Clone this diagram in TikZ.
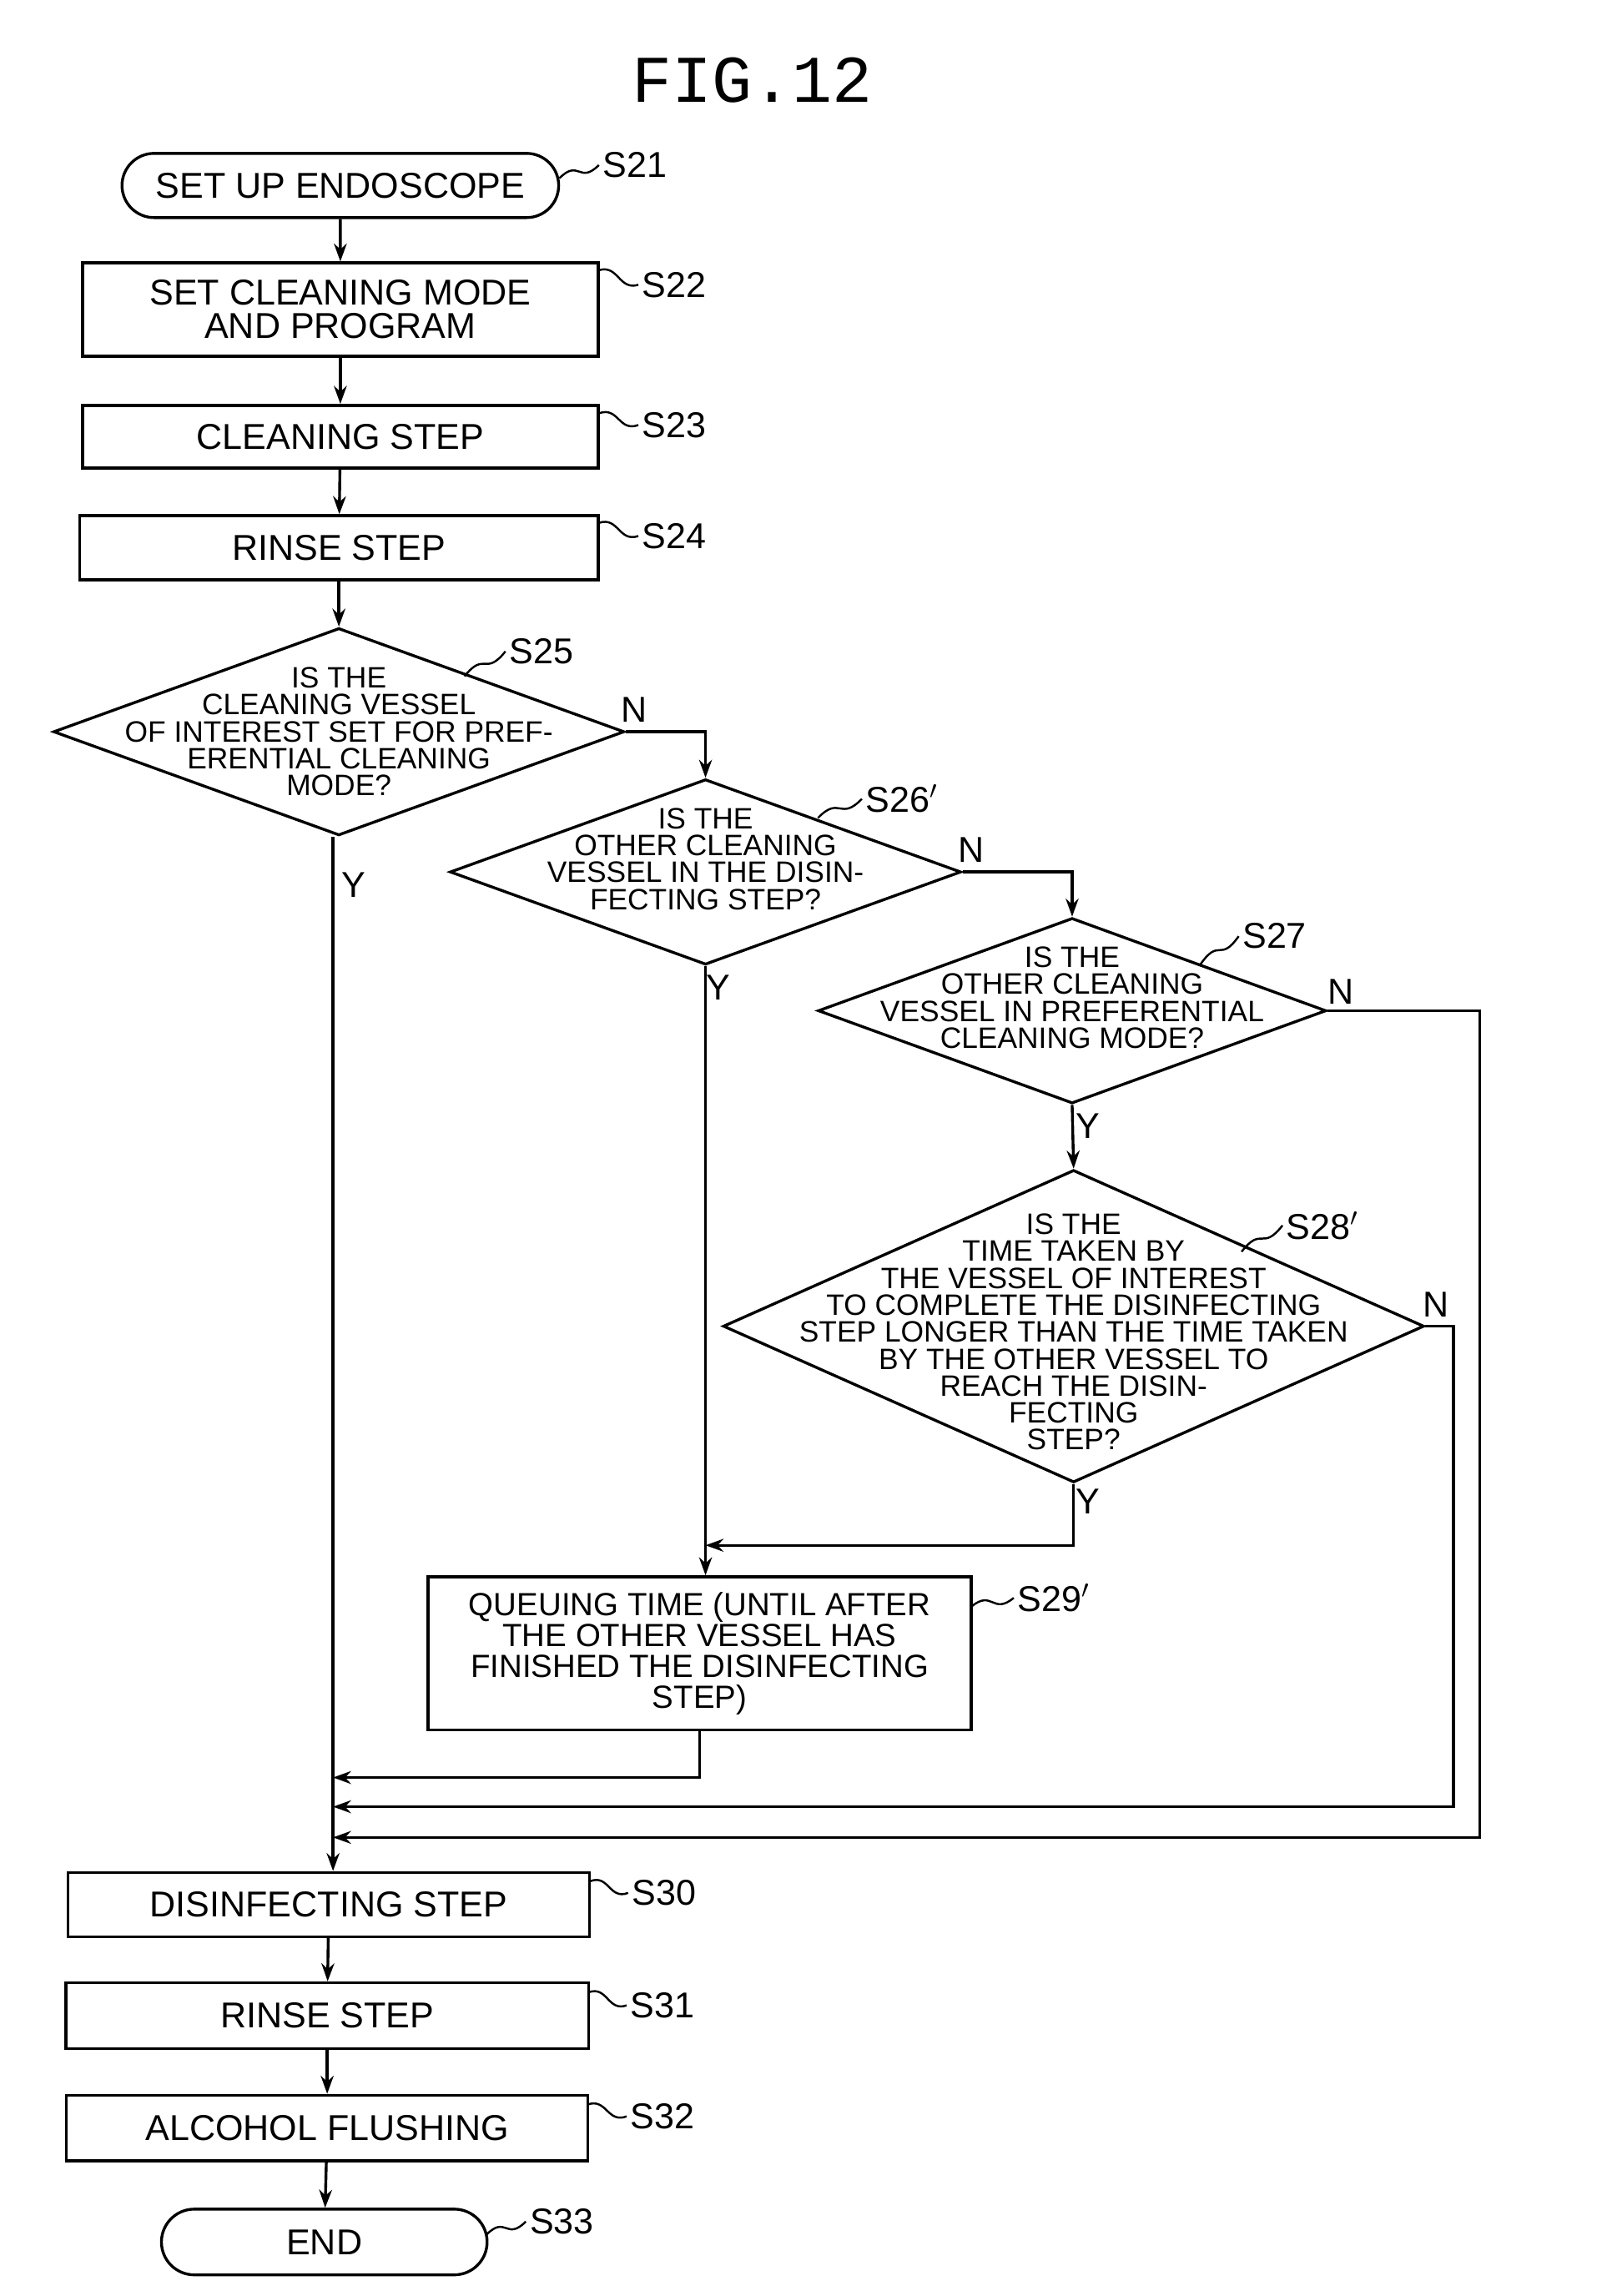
\documentclass[tikz,border=0pt]{standalone}
\usepackage{fontspec}
\setmainfont{Liberation Sans}
\newfontfamily\monof{Liberation Mono}
\usetikzlibrary{shapes.geometric,shapes.misc,arrows.meta,calc}
\begin{document}
\begin{tikzpicture}[x=0.02cm,y=-0.02cm,
 line width=1.1pt,
 arr/.style={-{Stealth[length=7pt,width=5pt]}},
 box/.style={draw,rectangle,inner sep=0pt,align=center,font=\fontsize{14}{13}\selectfont},
 term/.style={draw,rounded rectangle,inner sep=0pt,font=\fontsize{14}{13}\selectfont},
 dia/.style={draw,diamond,inner sep=0pt},
 dtxt/.style={align=center,inner sep=0pt,font=\fontsize{11.5}{10.5}\selectfont},
 lab/.style={font=\fontsize{14}{14}\selectfont,anchor=west,inner sep=1pt},
 yn/.style={font=\fontsize{14}{14}\selectfont,inner sep=0pt}]
\useasboundingbox (0,0) rectangle (1100,1572);
\newcommand{\lead}[2]{\draw[line width=0.8pt] (#1) .. controls ($(#1)!0.5!(#2)+(0,-9)$) and ($(#1)!0.5!(#2)+(0,9)$) .. (#2);}
\node[font=\monof\fontsize{26}{26}\selectfont] (title) at (515,55) {FIG.12};
\node[term,minimum width=5.98cm,minimum height=0.88cm] (s21) at (233,127) {SET UP ENDOSCOPE};
\node[box,minimum width=7.06cm,minimum height=1.28cm] (s22) at (233,212) {SET CLEANING MODE\\AND PROGRAM};
\node[box,minimum width=7.06cm,minimum height=0.86cm] (s23) at (233,299) {CLEANING STEP};
\node[box,minimum width=7.1cm,minimum height=0.88cm] (s24) at (232,375) {RINSE STEP};
\node[dia,minimum width=7.82cm,minimum height=2.84cm] (s25) at (232,501) {};
\node[dtxt] at (232,501) {IS THE\\CLEANING VESSEL\\OF INTEREST SET FOR PREF-\\ERENTIAL CLEANING\\MODE?};
\node[dia,minimum width=7.0cm,minimum height=2.54cm] (s26) at (483,597) {};
\node[dtxt] at (483,588) {IS THE\\OTHER CLEANING\\VESSEL IN THE DISIN-\\FECTING STEP?};
\node[dia,minimum width=6.96cm,minimum height=2.54cm] (s27) at (734,692) {};
\node[dtxt] at (734,683) {IS THE\\OTHER CLEANING\\VESSEL IN PREFERENTIAL\\CLEANING MODE?};
\node[dia,minimum width=9.6cm,minimum height=4.28cm] (s28) at (735,908) {};
\node[dtxt] at (735,912) {IS THE\\TIME TAKEN BY\\THE VESSEL OF INTEREST\\TO COMPLETE THE DISINFECTING\\STEP LONGER THAN THE TIME TAKEN\\BY THE OTHER VESSEL TO\\REACH THE DISIN-\\FECTING\\STEP?};
\node[box,minimum width=7.44cm,minimum height=2.1cm,font=\fontsize{12.5}{12}\selectfont] (s29) at (479,1132) {QUEUING TIME (UNTIL AFTER\\THE OTHER VESSEL HAS\\FINISHED THE DISINFECTING\\STEP)};
\node[box,minimum width=7.14cm,minimum height=0.88cm] (s30) at (225,1304) {DISINFECTING STEP};
\node[box,minimum width=7.16cm,minimum height=0.9cm] (s31) at (224,1380) {RINSE STEP};
\node[box,minimum width=7.14cm,minimum height=0.9cm] (s32) at (224,1457) {ALCOHOL FLUSHING};
\node[term,minimum width=4.46cm,minimum height=0.9cm] (s33) at (222,1535) {END};
% step labels
\node[lab] (l21) at (410,113) {S21}; \lead{383,122}{l21.west}
\node[lab] (l22) at (437,195) {S22}; \lead{410,185}{l22.west}
\node[lab] (l23) at (437,291) {S23}; \lead{410,283}{l23.west}
\node[lab] (l24) at (437,367) {S24}; \lead{410,358}{l24.west}
\node[lab] (l25) at (346,446) {S25}; \lead{318,463}{l25.west}
\node[lab] (l26) at (590,547) {S26$'$}; \lead{560,560}{l26.west}
\node[lab] (l27) at (848,641) {S27}; \lead{822,660}{l27.west}
\node[lab] (l28) at (878,839) {S28$'$}; \lead{850,857}{l28.west}
\node[lab] (l29) at (694,1094) {S29$'$}; \lead{665,1100}{l29.west}
\node[lab] (l30) at (430,1296) {S30}; \lead{404,1288}{l30.west}
\node[lab] (l31) at (429,1373) {S31}; \lead{403,1364}{l31.west}
\node[lab] (l32) at (429,1449) {S32}; \lead{402,1441}{l32.west}
\node[lab] (l33) at (360,1521) {S33}; \lead{333,1530}{l33.west}
% flow
\draw[arr] (s21) -- (s22);
\draw[arr] (s22) -- (s23);
\draw[arr] (s23) -- (s24);
\draw[arr] (s24) -- (s25);
\coordinate (j1) at (483,501);
\draw[arr] (s25.east) -- (j1) -- (s26.north);
\coordinate (j2) at (734,597);
\draw[arr] (s26.east) -- (j2) -- (s27.north);
\draw[arr] (s27.south) -- (s28.north);
\coordinate (a1) at (1013,692); \coordinate (a2) at (1013,1258); \coordinate (a3) at (228,1258);
\draw[arr] (s27.east) -- (a1) -- (a2) -- (a3);
\coordinate (b1) at (995,908); \coordinate (b2) at (995,1237); \coordinate (b3) at (228,1237);
\draw[arr] (s28.east) -- (b1) -- (b2) -- (b3);
\coordinate (c1) at (735,1058); \coordinate (c2) at (483,1058);
\draw[arr] (s28.south) -- (c1) -- (c2);
\draw[arr] (s26.south) -- (s29.north -| s26.south);
\coordinate (d1) at (479,1217); \coordinate (d2) at (228,1217);
\draw[arr] (s29.south) -- (d1) -- (d2);
\draw[arr] (s25.south -| 228,0) -- (s30.north -| 228,0);
\draw[arr] (s30) -- (s31);
\draw[arr] (s31) -- (s32);
\draw[arr] (s32) -- (s33);
% Y/N
\node[yn] at (434,486) {N}; \node[yn] at (242,606) {Y};
\node[yn] at (665,582) {N}; \node[yn] at (492,676) {Y};
\node[yn] at (918,679) {N}; \node[yn] at (745,771) {Y};
\node[yn] at (983,893) {N}; \node[yn] at (745,1028) {Y};
\end{tikzpicture}
\end{document}
